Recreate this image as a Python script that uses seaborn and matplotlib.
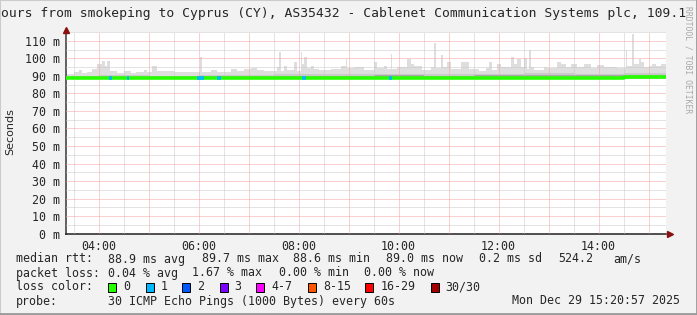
import numpy as np
import pandas as pd
import matplotlib
matplotlib.use("Agg")
import matplotlib.pyplot as plt
import matplotlib.dates as mdates
from matplotlib.patches import Rectangle
from matplotlib.lines import Line2D
import seaborn as sns

# ---------------- data ----------------
DAY = "2025-12-29 "
START, END = "03:21", "15:21"

smoke_times = ["03:21", "03:31", "03:37", "03:40", "03:46", "03:52", "03:58", "04:04", "04:08", "04:10",
               "04:14", "04:22", "04:31", "04:39", "04:45", "04:55", "04:58", "05:04", "05:10", "05:19",
               "05:31", "05:43", "06:02", "06:04", "06:15", "06:22", "06:39", "06:46", "06:55", "07:03",
               "07:10", "07:19", "07:34", "07:37", "07:39", "07:43", "07:46", "07:55", "07:58", "08:03",
               "08:04", "08:07", "08:10", "08:15", "08:19", "08:25", "08:39", "08:51", "08:57", "08:58",
               "09:07", "09:19", "09:31", "09:34", "09:43", "09:46", "09:51", "09:52", "09:58", "10:10",
               "10:15", "10:19", "10:28", "10:39", "10:43", "10:45", "10:51", "10:53", "10:58", "11:03",
               "11:15", "11:25", "11:37", "11:45", "11:49", "11:52", "11:58", "12:03", "12:15", "12:19",
               "12:22", "12:27", "12:31", "12:34", "12:37", "12:39", "12:43", "12:55", "12:58", "13:10",
               "13:15", "13:21", "13:27", "13:34", "13:43", "13:51", "13:58", "14:07", "14:15", "14:22",
               "14:33", "14:34", "14:40", "14:43", "14:49", "14:51", "14:55", "15:01", "15:04", "15:09",
               "15:15"]
smoke_top = [91.0, 92.0, 93.5, 91.5, 92.4, 94.0, 96.8, 98.7, 95.8, 98.7,
             92.6, 91.8, 93.0, 91.5, 92.4, 93.5, 92.0, 95.5, 92.6, 93.0,
             92.0, 92.4, 100.5, 92.0, 93.4, 92.2, 94.0, 93.0, 94.0, 94.5,
             93.4, 93.0, 94.8, 103.4, 93.0, 95.8, 93.4, 97.7, 93.0, 103.4,
             96.8, 101.0, 94.5, 95.8, 94.0, 93.4, 94.0, 95.8, 99.6, 94.5,
             95.2, 93.4, 97.7, 94.5, 95.8, 94.0, 102.4, 94.0, 94.8, 99.6,
             96.8, 95.8, 93.4, 94.8, 108.5, 94.5, 102.0, 95.2, 97.7, 94.0,
             97.7, 94.0, 93.0, 94.5, 97.7, 93.4, 96.8, 94.8, 100.5, 96.8,
             99.6, 94.8, 100.2, 94.0, 104.7, 94.8, 93.4, 94.8, 94.5, 97.7,
             96.8, 94.8, 96.8, 95.2, 96.8, 94.5, 96.2, 94.8, 95.2, 94.5,
             105.0, 95.8, 114.0, 96.8, 99.6, 97.7, 94.8, 95.8, 97.0, 95.8,
             96.8]
smoke_bottom = 88.2

mid_times = ["03:21", "04:00", "05:00", "06:00", "07:00", "07:30", "08:30", "09:30",
             "10:30", "11:30", "12:30", "13:30", "14:30"]
mid_top = [89.9, 90.3, 90.0, 90.2, 90.5, 91.0, 90.9, 91.1, 90.9, 91.2, 91.4, 91.3, 91.6]

median_times = ["03:21", "06:00", "08:00", "10:00", "12:00", "14:30"]
median_vals = [88.9, 88.9, 88.8, 88.9, 88.9, 89.3]

loss_start = ["04:13", "04:34", "05:58", "06:22", "08:04", "09:49", "14:47"]
loss_end = ["04:16", "04:37", "06:07", "06:27", "08:09", "09:52", "14:48"]
loss_level = [1, 1, 1, 1, 1, 1, 3]

loss_labels = ["0", "1", "2", "3", "4-7", "8-15", "16-29", "30/30"]
loss_colors = ["#26ff00", "#00b8ff", "#0059ff", "#7e00ff", "#ff00ff", "#ff5500", "#ff0000", "#a10000"]

y_ticks = [0, 10, 20, 30, 40, 50, 60, 70, 80, 90, 100, 110]
x_labels = ["04:00", "06:00", "08:00", "10:00", "12:00", "14:00"]

title = "ours from smokeping to Cyprus (CY), AS35432 - Cablenet Communication Systems plc, 109.1"
stats1 = [("median rtt:", 16), ("88.9 ms avg", 107.6), ("89.7 ms max", 202.5), ("88.6 ms min", 293.3),
          ("89.0 ms now", 385.8), ("0.2 ms sd", 479.1), ("524.2", 558.2), ("am/s", 613.3)]
stats2 = [("packet loss:", 16), ("0.04 % avg", 107.6), ("1.67 % max", 192.0), ("0.00 % min", 279.1),
          ("0.00 % now", 364.4)]
loss_box_x = [108, 145.8, 182.2, 219.6, 256.4, 308, 365.3, 430.7]
probe_text = "30 ICMP Echo Pings (1000 Bytes) every 60s"
date_text = "Mon Dec 29 15:20:57 2025"

# ---------------- helpers ----------------
W, H = 697, 315
def T(s):
    return pd.to_datetime(DAY + s)

def fx(x):
    return x / W

def fy(y):
    return 1 - y / H

sns.set_style("white")
MONO = ["DejaVu Sans Mono"]
plt.rcParams["font.family"] = ["DejaVu Sans"]

fig = plt.figure(figsize=(W / 100, H / 100), dpi=100, facecolor="#f2f2f2")
ax = fig.add_axes([fx(66), fy(233.7), 600 / W, 201.7 / H])
ax.set_facecolor("white")
t0, t1 = T(START), T(END)
ax.set_xlim(t0, t1)
ax.set_ylim(0, 114.5)

# smoke
st = [T(s) for s in smoke_times] + [t1]
stop = smoke_top + [smoke_top[-1]]
ax.fill_between(st, smoke_bottom, stop, step="post", color="#dedede", lw=0, zorder=2)
mt = [T(s) for s in mid_times] + [t1]
mtop = mid_top + [mid_top[-1]]
ax.fill_between(mt, 88.4, mtop, step="post", color="#cacaca", lw=0, zorder=2)
ax.fill_between(mt, 88.6, [v - 0.9 for v in mtop], step="post", color="#a9a9a9", lw=0, zorder=2)

# median
med_df = pd.DataFrame({"t": [T(s) for s in median_times] + [t1],
                       "v": median_vals + [median_vals[-1]]})
sns.lineplot(data=med_df, x="t", y="v", ax=ax, drawstyle="steps-post", color=loss_colors[0],
             lw=2.6, zorder=5, solid_capstyle="butt")
med_num = mdates.date2num(med_df["t"])
for s, e, lv in zip(loss_start, loss_end, loss_level):
    a, b = T(s), T(e)
    idx = np.searchsorted(med_num, mdates.date2num(a), side="right") - 1
    y = med_df["v"].iloc[idx]
    ax.plot([a, b], [y, y], color=loss_colors[lv], lw=2.6, zorder=6, solid_capstyle="butt")

# grid
hours = pd.date_range(T("04:00"), T("15:00"), freq="1h")
halves = pd.date_range(T("03:30"), T("15:00"), freq="1h")
ax.set_xticks(hours)
ax.set_xticks(halves, minor=True)
ax.set_xticklabels([h.strftime("%H:%M") if h.strftime("%H:%M") in x_labels else "" for h in hours],
                   family=MONO, fontsize=8.4)
ax.set_yticks(y_ticks)
ax.set_yticks([v + 5 for v in y_ticks], minor=True)
ax.set_yticklabels([f"{v} m" for v in y_ticks], family=MONO, fontsize=8.4)
ax.grid(which="major", color="#f4a0a0", lw=0.72, ls=(0, (1, 1)), zorder=4)
ax.grid(which="minor", color="#c8c8c8", lw=0.72, ls=(0, (1, 1)), zorder=3)
ax.set_axisbelow(False)
ax.tick_params(axis="y", which="major", length=2.2, width=0.8, color="#404040", pad=2)
ax.tick_params(axis="y", which="minor", length=1.5, width=0.6, color="#404040")
ax.tick_params(axis="x", which="major", length=2.2, width=0.8, color="#404040", pad=2)
ax.tick_params(axis="x", which="minor", length=0)
for sp in ["top", "right"]:
    ax.spines[sp].set_visible(False)
ax.spines["left"].set_color("#606060")
ax.spines["left"].set_linewidth(1.4)
ax.spines["bottom"].set_color("#202020")
ax.spines["bottom"].set_linewidth(1.1)
ax.set_xlabel("")
ax.set_ylabel("")

# arrows
fig.add_artist(Line2D([fx(66)], [fy(30)], marker="^", markersize=4.5, color="#8b1010", lw=0))
fig.add_artist(Line2D([fx(670)], [fy(233.7)], marker=">", markersize=4.5, color="#8b1010", lw=0))

# texts
fig.text(fx(1), fy(14), title, family=MONO, fontsize=9.4, ha="left", va="center")
fig.text(fx(10), fy(132), "Seconds", fontsize=8, rotation=90, ha="center", va="center")
fig.text(fx(688), fy(60), "RRDTOOL / TOBI OETIKER", family=MONO, fontsize=5.8, rotation=270,
         ha="center", va="center", color="#a8a8a8")

for txt, x in stats1:
    fig.text(fx(x), fy(259), txt, family=MONO, fontsize=8.4, ha="left", va="center")
for txt, x in stats2:
    fig.text(fx(x), fy(273), txt, family=MONO, fontsize=8.4, ha="left", va="center")
fig.text(fx(16), fy(287), "loss color:", family=MONO, fontsize=8.4, ha="left", va="center")
for lab, col, x in zip(loss_labels, loss_colors, loss_box_x):
    fig.add_artist(Rectangle((fx(x), fy(291.5)), 8 / W, 9 / H, facecolor=col,
                             edgecolor="black", lw=0.7, transform=fig.transFigure))
    fig.text(fx(x + 15), fy(287), lab, family=MONO, fontsize=8.4, ha="left", va="center")
fig.text(fx(16), fy(301), "probe:", family=MONO, fontsize=8.4, ha="left", va="center")
fig.text(fx(107.6), fy(301), probe_text, family=MONO, fontsize=8.4, ha="left", va="center")
fig.text(fx(680.5), fy(301), date_text, family=MONO, fontsize=8.4, ha="right", va="center")

# frame
fig.add_artist(Line2D([0, 0, 1], [0, 1, 1], color="#cbcbcb", lw=1.5, transform=fig.transFigure))
fig.add_artist(Line2D([0, 1, 1], [0.002, 0.002, 1], color="#999999", lw=2, transform=fig.transFigure))

fig.savefig("out.png", dpi=100, facecolor=fig.get_facecolor())
